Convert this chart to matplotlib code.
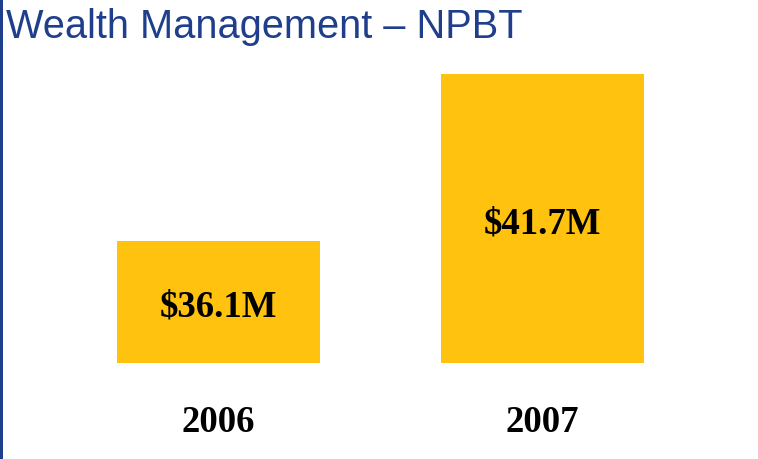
import matplotlib
matplotlib.use("Agg")
import matplotlib.pyplot as plt
from matplotlib.patches import Rectangle

# データ
years = ["2006", "2007"]
npbt = [36.1, 41.7]
value_labels = ["$36.1M", "$41.7M"]

W, H = 758, 459
fig = plt.figure(figsize=(W / 100, H / 100), dpi=100)

# 左端の青い縦線
fig.add_artist(Rectangle((0, 0), 2.5 / W, 1, transform=fig.transFigure,
                         color="#1F3E8C", lw=0))

# タイトル
fig.text(6 / W, 1 - 38 / H, "Wealth Management \u2013 NPBT",
         fontsize=28.6, color="#1F3E8C", family="Liberation Sans",
         ha="left", va="baseline")

# 棒グラフ（ピクセル位置に合わせた軸）
bar_w = 203 / 324
ax = fig.add_axes([117 / W, 1 - 363 / H, (644 - 117) / W, (363 - 74) / H])
x = range(len(years))
ax.bar(x, npbt, width=bar_w, color="#FEC20F", bottom=0)
ax.set_xlim(-bar_w / 2, 1 + bar_w / 2)
ax.set_ylim(32.0, 41.7)

for xi, v, lab in zip(x, npbt, value_labels):
    ax.annotate(lab, (xi, (32.0 + v) / 2), xytext=(0, -4), textcoords="offset points",
                ha="center", va="center",
                fontsize=26.5, fontweight="bold", family="Liberation Serif")

ax.set_xticks(list(x))
ax.set_xticklabels(years, fontsize=26.5, fontweight="bold", family="Liberation Serif")
ax.tick_params(axis="x", length=0, pad=30)
ax.set_yticks([])
for s in ax.spines.values():
    s.set_visible(False)

fig.savefig("out.png", dpi=100)
